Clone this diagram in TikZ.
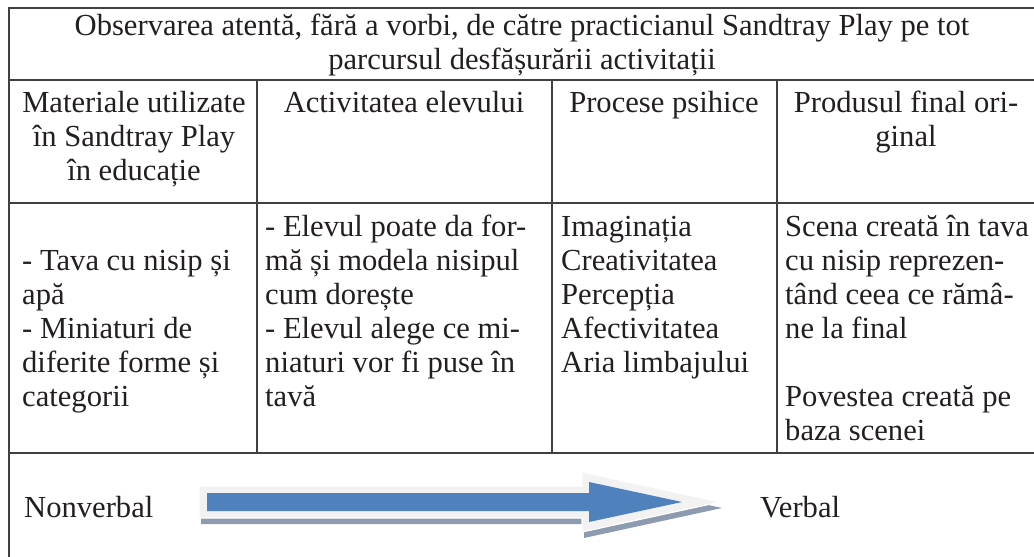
\documentclass[tikz,border=0pt]{standalone}
\usepackage{fontspec}
\setmainfont{Liberation Serif}
\usepackage{tikz}
\usetikzlibrary{positioning}
\definecolor{steelblue}{RGB}{79, 129, 189}
\definecolor{shadowgray}{RGB}{141, 154, 176}
\definecolor{smoke}{RGB}{242, 242, 242}
\definecolor{rulegray}{RGB}{64, 64, 64}
\definecolor{inkblack}{RGB}{35, 31, 32}
\newcommand{\cellfont}{\fontsize{30.6}{34}\selectfont}

\begin{document}
\begin{tikzpicture}[x=1pt, y=-1pt,
            cell/.style={inner sep=0pt, font=\cellfont, text=inkblack},
            tabline/.style={draw=rulegray, line width=1.6pt}]
            \useasboundingbox (0,0) rectangle (1034,557);
            % table rules
            \draw[tabline] (1034,8) -- (9,8) -- (9,557);
            \draw[tabline] (9,80)  -- (1034,80);
            \draw[tabline] (9,203) -- (1034,203);
            \draw[tabline] (9,453) -- (1034,453);
            \foreach \x in {257,552,777}
                 \draw[tabline] (\x,80) -- (\x,453);
            % title and header row
            \node[cell, anchor=north, align=center] (title) at (522,11)
                 {\strut Observarea atentă, fără a vorbi, de către practicianul Sandtray Play pe tot\\parcursul desfășurării activitații};
            \node[cell, anchor=north, align=center] (headmat)  at (134,88)
                 {\strut Materiale utilizate\\în Sandtray Play\\în educație};
            \node[cell, anchor=north, align=center] (headact)  at (404,88) {\strut Activitatea elevului};
            \node[cell, anchor=north, align=center] (headproc) at (664,88) {\strut Procese psihice};
            \node[cell, anchor=north, align=center] (headprod) at (906,88)
                 {\strut Produsul final ori-\\ginal};
            % body row
            \node[cell, anchor=north west, align=left] (bodymat)  at (22,246)
                 {\strut - Tava cu nisip și\\apă\\- Miniaturi de\\diferite forme și\\categorii};
            \node[cell, anchor=north west, align=left] (bodyact)  at (265,212)
                 {\strut - Elevul poate da for-\\mă și modela nisipul\\cum dorește\\- Elevul alege ce mi-\\niaturi vor fi puse în\\tavă};
            \node[cell, anchor=north west, align=left] (bodyproc) at (561,212)
                 {\strut Imaginația\\Creativitatea\\Percepția\\Afectivitatea\\Aria limbajului};
            \node[cell, anchor=north west, align=left] (bodyprod) at (785,212)
                 {\strut Scena creată în tava\\cu nisip reprezen-\\tând ceea ce rămâ-\\ne la final\\[34pt]Povestea creată pe\\baza scenei};
            % block arrow
            \fill[shadowgray] (201,492) -- (584,492) -- (584,478) -- (722,508) -- (584,538) -- (584,524) -- (201,524) -- cycle;
            \filldraw[fill=smoke, draw=white, line width=1.2pt]
                 (199,486) -- (582,486) -- (582,472) -- (720,502) -- (582,532) -- (582,518) -- (199,518) -- cycle;
            \fill[steelblue] (207,493) -- (589,493) -- (589,482) -- (682,502) -- (589,522) -- (589,511) -- (207,511) -- cycle;
            \node[cell, anchor=base west] (nonverbal) at (24,517) {Nonverbal};
            \node[cell, anchor=base west] (verbal)    at (760,517) {Verbal};
\end{tikzpicture}
\end{document}
